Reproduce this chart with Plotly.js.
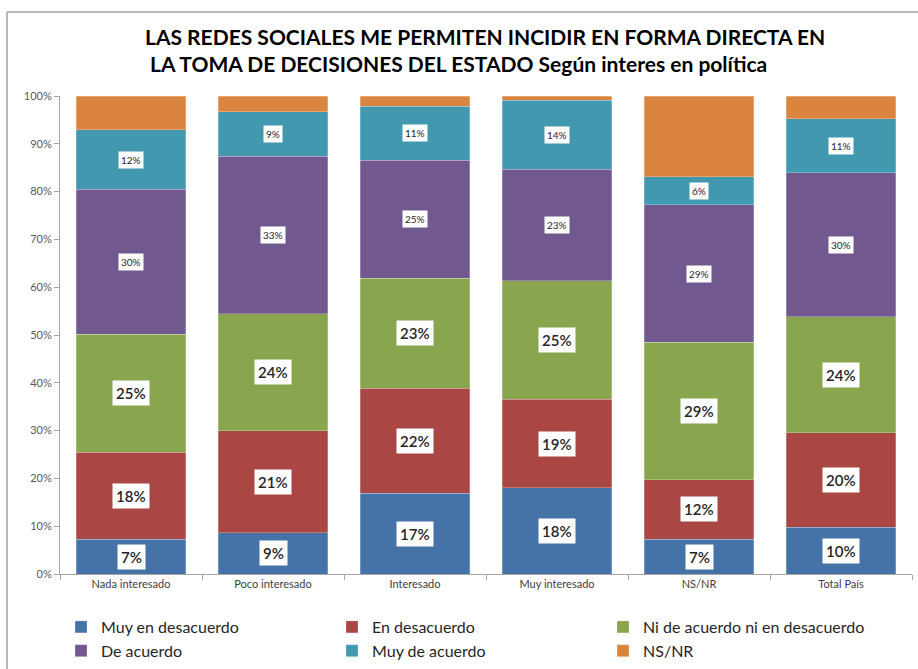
<!DOCTYPE html>
<html><head><meta charset="utf-8">
<script src="https://cdn.plot.ly/plotly-3.0.1.min.js"></script>
<style>body{margin:0;background:#fff}</style>
</head><body><div id="chart" style="width:918px;height:669px"></div>
<script>
const categories = ["Nada interesado","Poco interesado","Interesado","Muy interesado","NS/NR","Total País"];
const seriesNames = ["Muy en desacuerdo","En desacuerdo","Ni de acuerdo ni en desacuerdo","De acuerdo","Muy de acuerdo","NS/NR"];
const muyDesacuerdo = [7.3, 8.6, 16.9, 18.0, 7.3, 9.8];
const enDesacuerdo = [18.2, 21.4, 22.0, 18.6, 12.4, 19.7];
const niNi = [24.7, 24.4, 23.0, 24.7, 28.8, 24.3];
const deAcuerdo = [30.3, 33.0, 24.7, 23.4, 28.7, 30.1];
const muyDeAcuerdo = [12.4, 9.3, 11.3, 14.4, 5.9, 11.3];
const nsnr = [7.1, 3.3, 2.1, 0.9, 16.9, 4.8];
const yTicks = [0,10,20,30,40,50,60,70,80,90,100];

const FONT = 'Lato, "Open Sans", sans-serif';
const series = [muyDesacuerdo, enDesacuerdo, niNi, deAcuerdo, muyDeAcuerdo, nsnr];
const colors = ["#4572A7","#AA4643","#89A54E","#71588F","#4198AF","#DB843D"];
const labelSize = [15,15,15,10,10,null];

const traces = series.map((vals,i)=>({
  type:'bar', name:seriesNames[i], x:categories, y:vals,
  marker:{color:colors[i], line:{color:'rgba(255,255,255,0.5)', width:0.5}},
  hoverinfo:'skip'
}));

const annotations = [];
const cum = categories.map(()=>0);
series.forEach((vals,i)=>{
  vals.forEach((v,j)=>{
    const mid = cum[j] + v/2;
    cum[j] += v;
    if (labelSize[i]) {
      annotations.push({x:categories[j], y:mid, xref:'x', yref:'y', showarrow:false,
        text: Math.round(v)+'%', bgcolor:'#ffffff', borderpad: labelSize[i]>12?3:2,
        font:{family:FONT, size:labelSize[i], color:'#262626', weight: labelSize[i]>12?600:400}});
    }
  });
});

const layout = {
  width:918, height:669,
  margin:{l:60, r:6, t:96, b:95},
  barmode:'stack', bargap:0.23,
  paper_bgcolor:'#ffffff', plot_bgcolor:'#ffffff',
  font:{family:FONT},
  title:{text:'LAS REDES SOCIALES ME PERMITEN INCIDIR EN FORMA DIRECTA EN<br> LA TOMA DE DECISIONES DEL ESTADO Según interes en política',
    x:145/918, xref:'container', xanchor:'left', y:1-45/669, yref:'container', yanchor:'top',
    font:{family:FONT, size:21, color:'#000000', weight:'bold'}},
  xaxis:{type:'category', showline:true, linecolor:'#a6a6a6', linewidth:1, ticks:'outside', tickson:'boundaries',
    ticklen:5, tickcolor:'#a6a6a6', tickfont:{size:11, color:'#404040'}, showgrid:false, fixedrange:true},
  yaxis:{range:[0,100], tickvals:yTicks, ticktext:yTicks.map(t=>t+'%'), showline:true, linecolor:'#a6a6a6',
    ticks:'outside', ticklen:5, tickcolor:'#a6a6a6', tickfont:{size:11, color:'#595959'}, showgrid:false, zeroline:false, fixedrange:true},
  showlegend:true,
  legend:{orientation:'h', x:61/918, xref:'container', xanchor:'left', y:1-610/669, yref:'container', yanchor:'top', traceorder:'normal',
    entrywidth:226, entrywidthmode:'pixels', font:{family:FONT, size:16, color:'#262626'}, itemwidth:30},
  annotations: annotations,
  shapes:[
    {type:'line', xref:'paper', yref:'paper', x0:(7-60)/852, x1:(7-60)/852, y0:(574-12)/478, y1:(574-669)/478, line:{color:'#a0a0a0', width:1.5}},
    {type:'line', xref:'paper', yref:'paper', x0:(7-60)/852, x1:(918-60)/852, y0:(574-12)/478, y1:(574-12)/478, line:{color:'#a0a0a0', width:1.5}}
  ]
};
Plotly.newPlot('chart', traces, layout, {displayModeBar:false, staticPlot:true});
</script></body></html>
